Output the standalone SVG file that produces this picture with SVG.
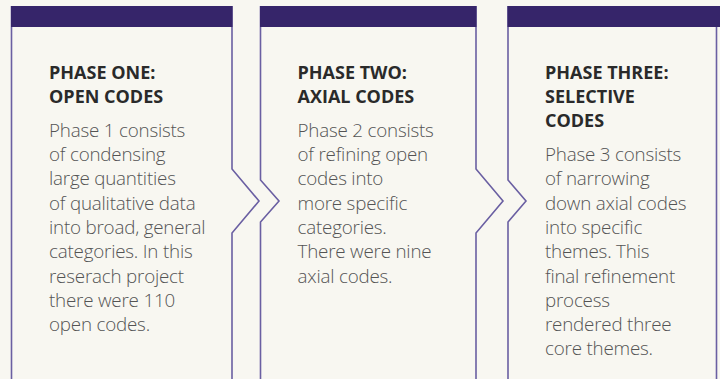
<svg xmlns="http://www.w3.org/2000/svg" width="720" height="379" viewBox="0 0 720 379">
<style>
.bg{fill:#f8f7f1}
.edge{fill:none;stroke:#6a5fa2;stroke-width:1.6}
.bar{fill:#36256a}
.title{font-family:"Open Sans","Noto Sans",sans-serif;font-weight:700;font-size:18px;fill:#2a2a2a}
.body{font-family:"Open Sans","Noto Sans",sans-serif;font-weight:300;font-size:18.8px;fill:#545454;letter-spacing:-0.2px}
</style>
<rect class="bg" x="0" y="0" width="720" height="379"/>
<g id="phase-one">
  <path class="edge" d="M11.5,6 V380 M232,6 V169 L259,201 L232,233 V380"/>
  <rect class="bar" x="11" y="6" width="221.5" height="21"/>
  <text class="title" x="49"><tspan x="49" y="79">PHASE ONE:</tspan><tspan x="49" y="103">OPEN CODES</tspan></text>
  <text class="body" x="49">
    <tspan x="49" y="136.7">Phase 1 consists</tspan>
    <tspan x="49" y="161">of condensing</tspan>
    <tspan x="49" y="185.3">large quantities</tspan>
    <tspan x="49" y="209.6">of qualitative data</tspan>
    <tspan x="49" y="233.9">into broad, general</tspan>
    <tspan x="49" y="258.2">categories. In this</tspan>
    <tspan x="49" y="282.5">reserach project</tspan>
    <tspan x="49" y="306.8">there were 110</tspan>
    <tspan x="49" y="331.1">open codes.</tspan>
  </text>
</g>
<g id="phase-two">
  <path class="edge" d="M260.5,6 V180 L279,201 L260.5,222 V380 M476,6 V169 L503,201 L476,233 V380"/>
  <rect class="bar" x="260" y="6" width="216.5" height="21"/>
  <text class="title" x="297.5"><tspan x="297.5" y="79">PHASE TWO:</tspan><tspan x="297.5" y="103">AXIAL CODES</tspan></text>
  <text class="body" x="297.5">
    <tspan x="297.5" y="136.7">Phase 2 consists</tspan>
    <tspan x="297.5" y="161">of refining open</tspan>
    <tspan x="297.5" y="185.3">codes into</tspan>
    <tspan x="297.5" y="209.6">more specific</tspan>
    <tspan x="297.5" y="233.9">categories.</tspan>
    <tspan x="297.5" y="258.2">There were nine</tspan>
    <tspan x="297.5" y="282.5">axial codes.</tspan>
  </text>
</g>
<g id="phase-three">
  <path class="edge" d="M508,6 V180 L526,201 L508,222 V380 M716.5,6 V380"/>
  <rect class="bar" x="507.5" y="6" width="213" height="21"/>
  <text class="title" x="545"><tspan x="545" y="79">PHASE THREE:</tspan><tspan x="545" y="103">SELECTIVE</tspan><tspan x="545" y="127">CODES</tspan></text>
  <text class="body" x="545">
    <tspan x="545" y="161">Phase 3 consists</tspan>
    <tspan x="545" y="185.3">of narrowing</tspan>
    <tspan x="545" y="209.6">down axial codes</tspan>
    <tspan x="545" y="233.9">into specific</tspan>
    <tspan x="545" y="258.2">themes. This</tspan>
    <tspan x="545" y="282.5">final refinement</tspan>
    <tspan x="545" y="306.8">process</tspan>
    <tspan x="545" y="331.1">rendered three</tspan>
    <tspan x="545" y="355.4">core themes.</tspan>
  </text>
</g>
<g id="connectors"></g>
</svg>
